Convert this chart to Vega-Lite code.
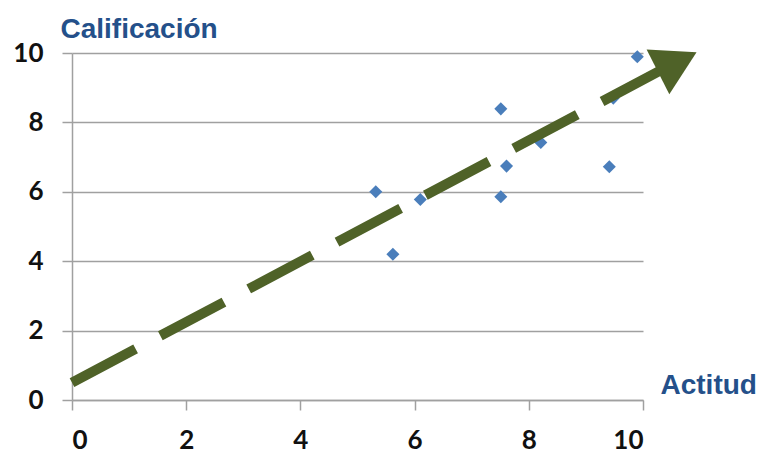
{
  "$schema": "https://vega.github.io/schema/vega-lite/v6.json",
  "autosize": "none",
  "padding": {"left": 72, "top": 53, "right": 116, "bottom": 55},
  "width": 571,
  "height": 347,
  "datasets": {
    "puntos": [
      {"actitud": 5.32, "calificacion": 6.0},
      {"actitud": 5.62, "calificacion": 4.2},
      {"actitud": 6.1, "calificacion": 5.78},
      {"actitud": 7.51, "calificacion": 8.39},
      {"actitud": 7.51, "calificacion": 5.86},
      {"actitud": 7.61, "calificacion": 6.74},
      {"actitud": 8.21, "calificacion": 7.42},
      {"actitud": 9.41, "calificacion": 6.72},
      {"actitud": 9.48, "calificacion": 8.7},
      {"actitud": 9.9, "calificacion": 9.89}
    ],
    "tendencia": [
      {"actitud": 0, "calificacion": 0.5},
      {"actitud": 10.3, "calificacion": 9.49}
    ],
    "punta": [
      {"actitud": 10.6, "calificacion": 9.74}
    ]
  },
  "layer": [
    {
      "data": {"name": "puntos"},
      "mark": {"type": "point", "shape": "diamond", "filled": true, "size": 170, "color": "#4A7EBB", "opacity": 1},
      "encoding": {
        "x": {
          "field": "actitud", "type": "quantitative",
          "scale": {"domain": [0, 10], "nice": false},
          "axis": {
            "values": [0, 2, 4, 6, 8, 10],
            "format": "d",
            "grid": false,
            "tickSize": 10,
            "labelPadding": 17,
            "title": "Actitud",
            "titleAngle": 0,
            "titleAlign": "left",
            "titleBaseline": "alphabetic",
            "titleX": 588,
            "titleY": -7
          }
        },
        "y": {
          "field": "calificacion", "type": "quantitative",
          "scale": {"domain": [0, 10], "nice": false},
          "axis": {
            "values": [0, 2, 4, 6, 8, 10],
            "format": "d",
            "grid": true,
            "tickSize": 10,
            "labelPadding": 19,
            "title": "Calificación",
            "titleAngle": 0,
            "titleAlign": "left",
            "titleBaseline": "alphabetic",
            "titleX": -12,
            "titleY": -16
          }
        }
      }
    },
    {
      "data": {"name": "tendencia"},
      "mark": {"type": "line", "color": "#4F6228", "strokeWidth": 10, "strokeDash": [72, 28], "strokeCap": "butt"},
      "encoding": {
        "x": {"field": "actitud", "type": "quantitative"},
        "y": {"field": "calificacion", "type": "quantitative"}
      }
    },
    {
      "data": {"name": "punta"},
      "mark": {"type": "point", "shape": "triangle-right", "filled": true, "size": 2500, "angle": 333, "color": "#4F6228", "opacity": 1},
      "encoding": {
        "x": {"field": "actitud", "type": "quantitative"},
        "y": {"field": "calificacion", "type": "quantitative"}
      }
    }
  ],
  "config": {
    "view": {"stroke": null},
    "axis": {
      "domainColor": "#A0A0A0",
      "domainWidth": 1.5,
      "tickColor": "#A0A0A0",
      "tickWidth": 1.5,
      "gridColor": "#A0A0A0",
      "gridWidth": 1.5,
      "gridOpacity": 1,
      "labelFont": "Lato",
      "labelFontSize": 26,
      "labelFontWeight": "bold",
      "labelColor": "#111111",
      "titleFont": "Liberation Sans",
      "titleFontSize": 28,
      "titleFontWeight": "bold",
      "titleColor": "#24508A"
    }
  }
}
